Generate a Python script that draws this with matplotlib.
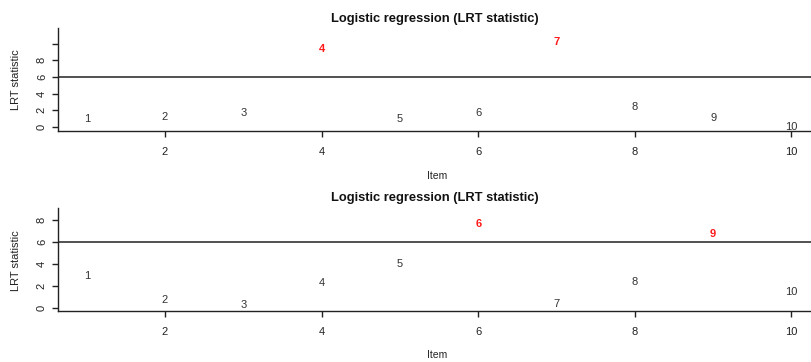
import matplotlib
matplotlib.use("Agg")
import matplotlib.pyplot as plt

plt.rcParams['font.family'] = ['Liberation Sans', 'DejaVu Sans']

items = [1, 2, 3, 4, 5, 6, 7, 8, 9, 10]
lrt_top = [0.92, 1.16, 1.72, 9.3, 1.0, 1.72, 10.16, 2.36, 1.04, -0.04]
lrt_bottom = [2.9, 0.73, 0.24, 2.3, 3.97, 7.66, 0.39, 2.39, 6.7, 1.48]
threshold = 6.0
title = "Logistic regression (LRT statistic)"
xticks = [2, 4, 6, 8, 10]
yticks_top = [0, 2, 4, 6, 8, 10]
ylabels_top = ["0", "2", "4", "6", "8", ""]
yticks_bottom = [0, 2, 4, 6, 8]

W, H = 812, 362
fig = plt.figure(figsize=(W / 100, H / 100), dpi=100)

def make_ax(top_px, bottom_px, ylim, yt, ylab, vals, item_y, ylab_y):
    left_px, right_px = 58, 812
    ax = fig.add_axes([left_px / W, 1 - bottom_px / H, (right_px - left_px) / W,
                       (bottom_px - top_px) / H])
    ax.set_xlim(0.633, 10.263)
    ax.set_ylim(*ylim)
    for s in ['top', 'right']:
        ax.spines[s].set_visible(False)
    for s in ['left', 'bottom']:
        ax.spines[s].set_color('#222222')
        ax.spines[s].set_linewidth(1.0)
    ax.set_xticks(xticks)
    ax.set_xticklabels([str(t) for t in xticks], fontsize=8, color='#222222')
    ax.set_yticks(yt)
    ax.set_yticklabels(ylab, fontsize=8, color='#222222', rotation=90, va='center')
    ax.tick_params(axis='both', length=4.5, width=1.0, color='#222222')
    ax.tick_params(axis='x', pad=7)
    ax.tick_params(axis='y', pad=3.5)
    ax.axhline(threshold, color='#222222', lw=1.1)
    for x, v in zip(items, vals):
        if v > threshold:
            ax.text(x, v, str(x), color='#ff1a1a', fontsize=8, fontweight='bold',
                    ha='center', va='center')
        else:
            ax.text(x, v, str(x), color='#333333', fontsize=8, ha='center', va='center')
    ax.set_title(title, fontsize=9.3, fontweight='bold', pad=4.5, color='#111111')
    fig.text(16 / W, 1 - ylab_y / H, "LRT statistic", fontsize=8, color='#222222',
             rotation=90, ha='center', va='center')
    fig.text(437 / W, 1 - item_y / H, "Item", fontsize=7.5, color='#222222',
             ha='center', va='center')
    ax.patch.set_alpha(0)
    return ax

make_ax(28, 131.3, (-0.52, 11.88), yticks_top, ylabels_top, lrt_top, 176, 80)
make_ax(207.7, 311, (-0.27, 9.12), yticks_bottom, [str(t) for t in yticks_bottom],
        lrt_bottom, 355.5, 261)

fig.savefig("out.png", dpi=100, facecolor='white')
